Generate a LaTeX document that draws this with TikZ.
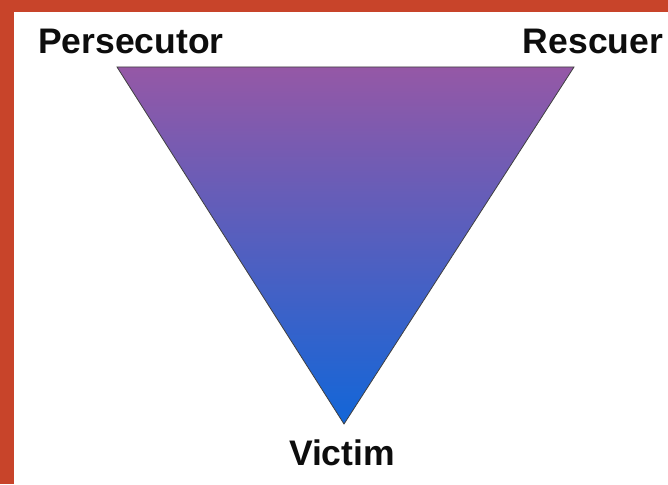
\documentclass[tikz,border=0pt]{standalone}
\usepackage{fontspec}
\setmainfont{Liberation Sans}
\definecolor{bgred}{HTML}{C8442A}
\definecolor{topc}{HTML}{9558A6}
\definecolor{midc}{HTML}{6A5DB5}
\definecolor{botc}{HTML}{1266D8}
\definecolor{edge}{HTML}{404040}
\begin{document}
\begin{tikzpicture}[x=1pt,y=-1pt,
  lbl/.style={font=\bfseries\fontsize{35.5}{42}\selectfont, text=black!95, anchor=base, inner sep=0pt}]
\useasboundingbox (0,0) rectangle (668,484);
\fill[bgred] (0,0) rectangle (668,484);
\fill[white] (14,12) rectangle (668,484);
\coordinate (tl) at (117,67);
\coordinate (tr) at (574,67);
\coordinate (bt) at (344,424);
\shade[top color=topc, middle color=midc, bottom color=botc] (tl) -- (tr) -- (bt) -- cycle;
\draw[edge, line width=0.8pt, line join=miter] (tl) -- (tr) -- (bt) -- cycle;
\node[lbl] (pers) at (131,54) {Persecutor};
\node[lbl] (resc) at (593,54) {Rescuer};
\node[lbl] (vict) at (342,465) {Victim};
\end{tikzpicture}
\end{document}
